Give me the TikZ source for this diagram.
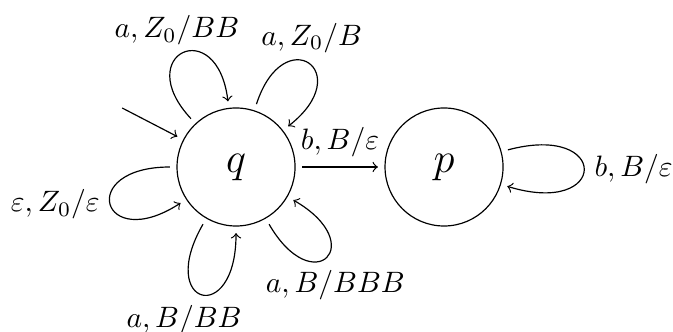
\documentclass[tikz,border=0pt]{standalone}
\usepackage{amsmath,amssymb}
\usepackage{tikz}
\tikzset{pdastate/.style={draw, circle, minimum size=40pt, inner sep=0pt, outer sep=2.4pt, font=\Large}}

\begin{document}
\begin{tikzpicture}[node distance=70.5pt, selfloop/.style={distance=30pt}]
\useasboundingbox (-80pt,-55.6pt) rectangle (148.1pt,56.6pt);
\node[pdastate] (q) {$q$};
\node[pdastate, right of=q] (p) {$p$};
\coordinate (start) at (-38.6pt,20pt);
\draw[->] (start) -- (q);
\draw[->] (q) -- node[above] {$b,B/\varepsilon$} (p);
\draw[->] (q) to[out=133,in=97,selfloop] node[above, xshift=-2pt, yshift=-1pt] {$a,Z_0/BB$} (q);
\draw[->] (q) to[out=72,in=38,selfloop] node[above, xshift=1pt] {$a,Z_0/B$} (q);
\draw[->] (q) to[out=180,in=213,selfloop, distance=32pt] node[left] {$\varepsilon,Z_0/\varepsilon$} (q);
\draw[->] (q) to[out=240,in=270,selfloop, distance=32pt] node[below, xshift=-6pt] {$a,B/BB$} (q);
\draw[->] (q) to[out=300,in=330,selfloop] node[below, xshift=3pt, yshift=-1pt] {$a,B/BBB$} (q);
\draw[->] (p) to[out=15,in=-17,distance=36pt] node[right] {$b,B/\varepsilon$} (p);
\end{tikzpicture}
\end{document}
